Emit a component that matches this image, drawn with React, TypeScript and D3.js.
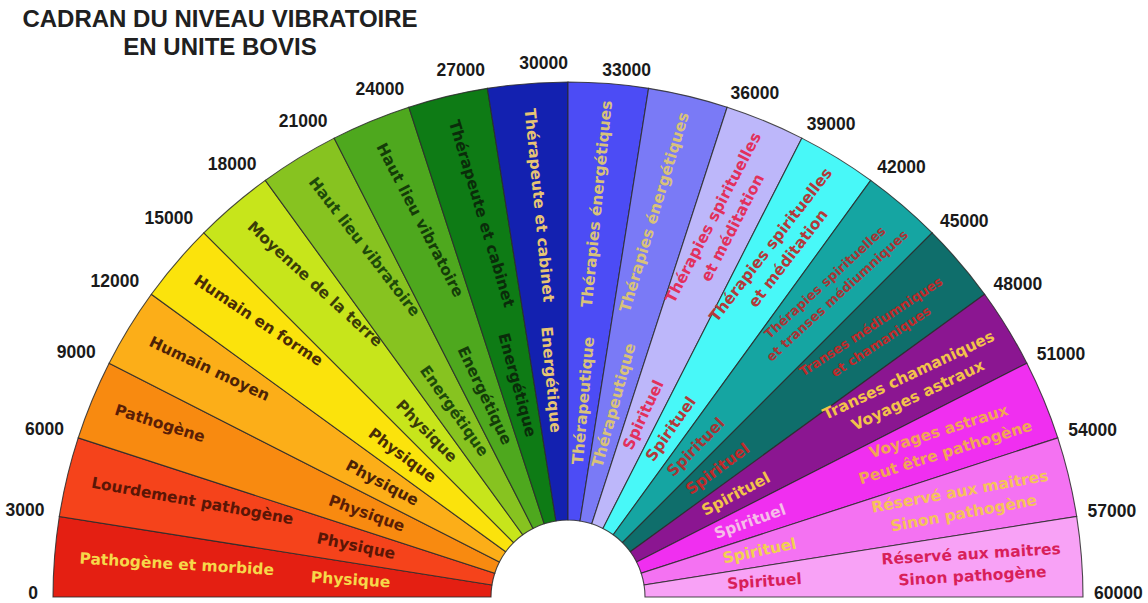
import * as d3 from "d3";

// Limites des secteurs (unités Bovis)
const tickValues = [
  0, 3000, 6000, 9000, 12000, 15000, 18000, 21000, 24000, 27000, 30000,
  33000, 36000, 39000, 42000, 45000, 48000, 51000, 54000, 57000, 60000,
];
const tickLabels = [
  "0", "3000", "6000", "9000", "12000", "15000", "18000", "21000", "24000", "27000", "30000",
  "33000", "36000", "39000", "42000", "45000", "48000", "51000", "54000", "57000", "60000",
];

const zoneLabels = [
  ["Pathogène et morbide"],
  ["Lourdement pathogène"],
  ["Pathogène"],
  ["Humain moyen"],
  ["Humain en forme"],
  ["Moyenne de la terre"],
  ["Haut lieu vibratoire"],
  ["Haut lieu vibratoire"],
  ["Thérapeute et cabinet"],
  ["Thérapeute et cabinet"],
  ["Thérapies énergétiques"],
  ["Thérapies énergétiques"],
  ["Thérapies spirituelles", "et méditation"],
  ["Thérapies spirituelles", "et méditation"],
  ["Thérapies spirituelles", "et transes médiumniques"],
  ["Transes médiumniques", "et chamaniques"],
  ["Transes chamaniques", "Voyages astraux"],
  ["Voyages astraux", "Peut être pathogène"],
  ["Réservé aux maitres", "Sinon pathogène"],
  ["Réservé aux maitres", "Sinon pathogène"],
];

const domainLabels = [
  "Physique", "Physique", "Physique", "Physique", "Physique", "Physique",
  "Energétique", "Energétique", "Energétique", "Energétique",
  "Thérapeutique", "Thérapeutique",
  "Spirituel", "Spirituel", "Spirituel", "Spirituel",
  "Spirituel", "Spirituel", "Spirituel", "Spirituel",
];

const zoneColors = [
  "#e41f12", "#f5431b", "#f88a10", "#fcae18", "#fbe30c",
  "#c7e51b", "#87c320", "#4ea81e", "#0e7b15", "#1321b0",
  "#4c4cf5", "#7a7af6", "#bdb7fa", "#48f8f8", "#15a5a2",
  "#0f6e6b", "#8b1691", "#f02ff0", "#f472f2", "#f8a2f6",
];

const labelColors = [
  "#f6d84a", "#5a1606", "#5a1e06", "#4c2206", "#4a2c06",
  "#3a3c08", "#1e4a0a", "#143c08", "#0a2c0a", "#e6c474",
  "#d8c27a", "#d8c27a", "#e2305c", "#b23a3a", "#a83434",
  "#c02a2a", "#f2c24a", "#f2a456", "#f6c25a", "#d81f5a",
];

const domainColors = [
  "#f6d84a", "#5a1606", "#5a1e06", "#4c2206", "#4a2c06",
  "#3a3c08", "#1e4a0a", "#143c08", "#0a2c0a", "#e6c474",
  "#d8c27a", "#d8c27a", "#e2305c", "#b23a3a", "#a83434",
  "#c02a2a", "#f2c24a", "#f6bde8", "#f2d050", "#d81f5a",
];

const CX = 568;
const CY = 597;
const R_IN = 77;
const R_OUT = 515;
const TEXT_FONT = "'DejaVu Sans', Verdana, sans-serif";
const NUM_FONT = "'Liberation Sans', Arial, sans-serif";

const angle = d3
  .scaleLinear()
  .domain([tickValues[0], tickValues[tickValues.length - 1]])
  .range([-Math.PI / 2, Math.PI / 2]);

const arc = d3.arc<any>().innerRadius(R_IN).outerRadius(R_OUT);

const polar = (a: number, r: number) => [r * Math.sin(a), -r * Math.cos(a)];

// les textes sont un peu moins inclinés que le rayon près de l'horizontale
const tilt = (a: number, k: number) => {
  const deg = (a * 180) / Math.PI;
  if (deg < 0) {
    const t = 90 + deg;
    return t - k * Math.sin((2 * t * Math.PI) / 180);
  }
  const f = 90 - deg;
  return -(f - k * Math.sin((2 * f * Math.PI) / 180));
};

const compact = new Set([14, 15]);

const App = () => {
  const segments = zoneLabels.map((lines, i) => ({
    i,
    lines,
    startAngle: angle(tickValues[i]),
    endAngle: angle(tickValues[i + 1]),
    mid: angle((tickValues[i] + tickValues[i + 1]) / 2),
  }));

  return (
    <svg
      width={1148}
      height={603}
      style={{ position: "absolute", left: 0, top: 0, background: "#fff" }}
    >
      <g fontFamily={NUM_FONT} fontWeight="bold" fontSize={24} fill="#202020" textAnchor="middle">
        <text x={220} y={27}>CADRAN DU NIVEAU VIBRATOIRE</text>
        <text x={220} y={55}>EN UNITE BOVIS</text>
      </g>

      <g transform={`translate(${CX},${CY})`}>
        {segments.map((s) => (
          <path
            key={"seg" + s.i}
            d={arc(s) as string}
            fill={zoneColors[s.i]}
            stroke="#2b2b2b"
            strokeWidth={1.1}
            strokeOpacity={0.85}
          />
        ))}

        {segments.map((s) => {
          const left = s.mid < 0;
          const rot = tilt(s.mid, 7);
          const multi = s.lines.length > 1;
          const r = multi ? 405 : left ? 490 : 498;
          const [x, y] = polar(s.mid, r);
          const fs = compact.has(s.i) ? 13 : 15.5;
          const gap = compact.has(s.i) ? 18 : 22;
          return (
            <g key={"lab" + s.i} transform={`translate(${x},${y}) rotate(${rot})`}>
              {s.lines.map((l, j) => (
                <text
                  key={j}
                  x={0}
                  y={(j - (s.lines.length - 1) / 2) * gap}
                  textAnchor={multi ? "middle" : left ? "start" : "end"}
                  dominantBaseline="central"
                  fontFamily={TEXT_FONT}
                  fontWeight="bold"
                  fontSize={fs}
                  fill={labelColors[s.i]}
                >
                  {l}
                </text>
              ))}
            </g>
          );
        })}

        {segments.map((s) => {
          const left = s.mid < 0;
          const rot = tilt(s.mid, 4);
          const [x, y] = polar(s.mid, left ? 218 : 197);
          return (
            <text
              key={"dom" + s.i}
              transform={`translate(${x},${y}) rotate(${rot})`}
              textAnchor="middle"
              dominantBaseline="central"
              fontFamily={TEXT_FONT}
              fontWeight="bold"
              fontSize={15.5}
              fill={domainColors[s.i]}
            >
              {domainLabels[s.i]}
            </text>
          );
        })}

        {tickValues.map((v, i) => {
          const a = angle(v);
          const left = v <= 33000;
          const [x, y] = polar(a, left ? 530 : 526);
          return (
            <text
              key={"tick" + v}
              x={x}
              y={y - 4}
              textAnchor={left ? "end" : "start"}
              dominantBaseline="central"
              fontFamily={NUM_FONT}
              fontWeight="bold"
              fontSize={17.5}
              fill="#1a1a1a"
            >
              {tickLabels[i]}
            </text>
          );
        })}
      </g>
    </svg>
  );
};

export default App;
